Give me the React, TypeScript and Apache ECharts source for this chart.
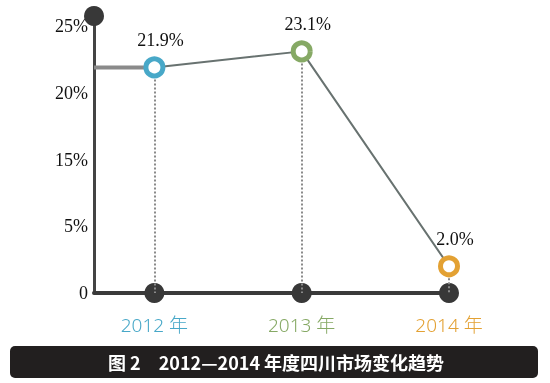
import React, { useEffect, useRef } from "react";
import * as echarts from "echarts";

const years = ["2012 年", "2013 年", "2014 年"];
const growth = [21.9, 23.1, 2.0];
const yTicks = [0, 5, 15, 20, 25];
const yTickLabels = ["0", "5%", "15%", "20%", "25%"];
const caption = "图 2\u30002012—2014 年度四川市场变化趋势";

const pointColors = ["#48a8c8", "#86a965", "#e3a133"];
const X_MIN = -0.41;
const Y_MAX = 4.15;

// Map a percentage onto the (unevenly spaced) tick positions of the axis
function pos(v: number): number {
  for (let i = 0; i < yTicks.length - 1; i++) {
    if (v <= yTicks[i + 1]) {
      return i + (v - yTicks[i]) / (yTicks[i + 1] - yTicks[i]);
    }
  }
  return yTicks.length - 1;
}

export default function App() {
  const ref = useRef<HTMLDivElement>(null);
  useEffect(() => {
    if (!ref.current) return;
    const chart = echarts.init(ref.current, undefined, { renderer: "svg" });
    const pts = growth.map((v, i) => [i, pos(v)]);
    const serif = "'Liberation Serif', 'DejaVu Serif', serif";
    chart.setOption({
      animation: false,
      grid: { left: 94, right: 101, top: 16, bottom: 90 },
      xAxis: {
        type: "value",
        min: X_MIN,
        max: growth.length - 1,
        axisLine: { show: true, onZero: false, lineStyle: { color: "#3a3a3a", width: 4 } },
        axisTick: { show: false },
        axisLabel: { show: false },
        splitLine: { show: false },
      },
      yAxis: {
        type: "value",
        min: 0,
        max: Y_MAX,
        interval: 1,
        axisLine: { show: true, onZero: false, lineStyle: { color: "#444", width: 3 } },
        axisTick: { show: false },
        splitLine: { show: false },
        axisLabel: {
          margin: 6,
          fontFamily: serif,
          fontSize: 18,
          color: "#111",
          formatter: (v: number) =>
            Number.isInteger(v) && yTickLabels[v] !== undefined ? yTickLabels[v] : "",
        },
      },
      series: [
        {
          type: "line",
          data: [[X_MIN, pts[0][1]], pts[0]],
          symbol: "none",
          lineStyle: { color: "#8a8a8a", width: 4 },
          z: 2,
        },
        {
          type: "line",
          data: pts,
          symbol: "none",
          lineStyle: { color: "#687270", width: 2 },
          z: 2,
          markLine: {
            symbol: "none",
            silent: true,
            label: { show: false },
            lineStyle: { color: "#8a8a8a", width: 2, type: [2, 2] },
            data: pts.map((p) => [{ coord: [p[0], p[1]] }, { coord: [p[0], 0] }]),
          },
        },
        {
          type: "scatter",
          clip: false,
          symbolSize: 20,
          itemStyle: { color: "#383838", opacity: 1 },
          data: [[X_MIN, Y_MAX]],
          z: 4,
        },
        {
          type: "scatter",
          clip: false,
          symbolSize: 20,
          itemStyle: { color: "#383838", opacity: 1 },
          data: growth.map((_, i) => ({
            value: [i, 0],
            label: {
              show: true,
              position: "bottom",
              distance: 12,
              formatter: years[i],
              color: pointColors[i],
              fontFamily: "'Noto Sans', 'Noto Sans CJK SC', sans-serif",
              fontWeight: 300,
              fontSize: 19,
            },
          })),
          z: 4,
        },
        {
          type: "scatter",
          clip: false,
          symbolSize: 17,
          data: pts.map((p, i) => ({
            value: p,
            itemStyle: {
              color: "#fff",
              borderColor: pointColors[i],
              borderWidth: 5,
              opacity: 1,
            },
          })),
          label: {
            show: true,
            position: "top",
            distance: 7,
            offset: [6, 0],
            fontFamily: serif,
            fontSize: 18,
            color: "#111",
            formatter: (p: any) => growth[p.dataIndex].toFixed(1) + "%",
          },
          z: 5,
        },
      ],
      graphic: [
        {
          type: "rect",
          shape: { x: 10, y: 346, width: 528, height: 32, r: 5 },
          style: { fill: "#221f1f" },
        },
        {
          type: "text",
          x: 108,
          y: 362,
          style: {
            text: caption,
            fill: "#fff",
            font: "bold 18px 'Noto Sans CJK SC', sans-serif",
            verticalAlign: "middle",
          },
        },
      ],
    });
    return () => chart.dispose();
  }, []);
  return (
    <div
      ref={ref}
      style={{ position: "fixed", left: 0, top: 0, width: 550, height: 383 }}
    />
  );
}
